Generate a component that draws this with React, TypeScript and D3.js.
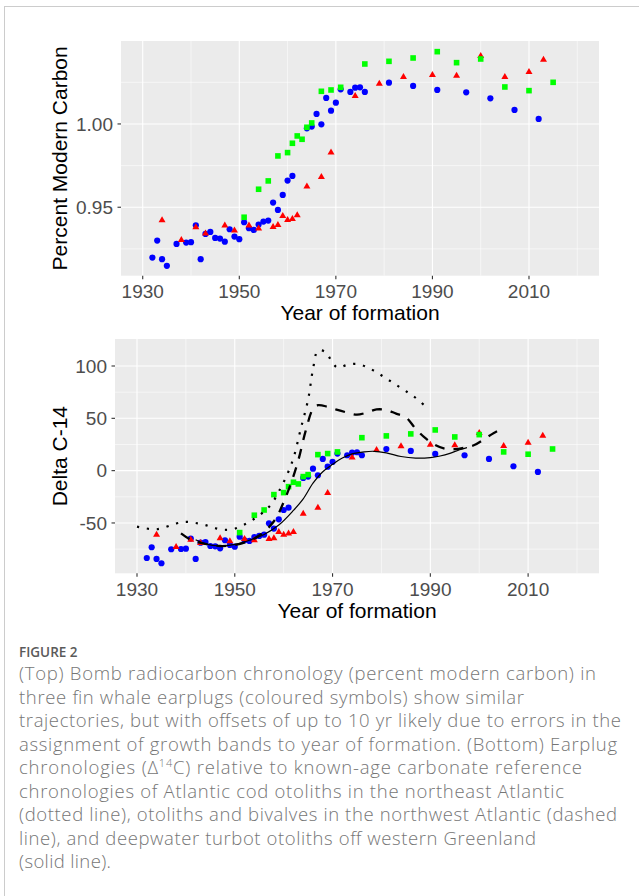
import React from 'react';
import * as d3 from 'd3';

const W = 639;
const H = 896;

// top panel - percent modern carbon, three earplugs
const pmcBlue: [number, number][] = [
  [1932, 0.9198], [1933, 0.930], [1934, 0.9188], [1935, 0.9148], [1937, 0.928], [1939, 0.9288],
  [1940, 0.929], [1941, 0.9392], [1942, 0.9188], [1943, 0.934], [1944, 0.9352], [1945, 0.9316],
  [1946, 0.9312], [1947, 0.9293], [1948, 0.9368], [1949, 0.9324], [1950, 0.9308], [1951, 0.941],
  [1952, 0.9374], [1953, 0.9364], [1954, 0.9396], [1955, 0.9414], [1956, 0.942], [1957, 0.9528],
  [1958, 0.9484], [1959, 0.9574], [1960, 0.966], [1961, 0.9688], [1964, 0.9974], [1965, 0.9984],
  [1966, 1.006], [1967, 0.9998], [1968, 1.0156], [1969, 1.008], [1970, 1.0128], [1971, 1.0208],
  [1973, 1.0192], [1974, 1.0218], [1975, 1.022], [1976, 1.0192], [1981, 1.0248], [1986, 1.0228],
  [1991, 1.0204], [1997, 1.019], [2002, 1.0154], [2007, 1.0084], [2012, 1.003],
];
const pmcRed: [number, number][] = [
  [1934, 0.9428], [1938, 0.931], [1941, 0.9386], [1943, 0.9348], [1947, 0.9396], [1949, 0.9366],
  [1952, 0.9396], [1954, 0.9378], [1957, 0.9388], [1958, 0.940], [1959, 0.9454], [1960, 0.943],
  [1961, 0.9436], [1962, 0.9458], [1964, 0.963], [1967, 0.9688], [1969, 0.9834], [1974, 1.0174],
  [1979, 1.0248], [1984, 1.0288], [1990, 1.030], [1995, 1.0296], [2000, 1.0414], [2005, 1.0288],
  [2010, 1.0318], [2013, 1.0392],
];
const pmcGreen: [number, number][] = [
  [1951, 0.944], [1954, 0.9608], [1956, 0.9658], [1958, 0.9808], [1960, 0.9828], [1961, 0.9884],
  [1962, 0.9928], [1963, 0.9908], [1964, 0.998], [1965, 1.0006], [1967, 1.0196], [1969, 1.0204],
  [1971, 1.022], [1976, 1.036], [1981, 1.0376], [1986, 1.0396], [1991, 1.0434], [1995, 1.0368],
  [2000, 1.039], [2005, 1.0222], [2010, 1.020], [2015, 1.025],
];

// bottom panel - delta C-14
const dBlue: [number, number][] = [
  [1932, -83.5], [1933, -73.2], [1934, -84.4], [1935, -88.5], [1937, -75.1], [1939, -74.9],
  [1940, -74.6], [1941, -64.9], [1942, -84.4], [1943, -68.8], [1944, -68.2], [1945, -72],
  [1946, -72.3], [1947, -74.2], [1948, -66.5], [1949, -71], [1950, -72.7], [1951, -63.1],
  [1952, -66.5], [1953, -67.2], [1954, -63.4], [1955, -62.4], [1956, -61.2], [1957, -50.3],
  [1958, -55.4], [1959, -46.5], [1960, -37.6], [1961, -35.4], [1964, -7], [1965, -5.7],
  [1966, 1.9], [1967, -4.4], [1968, 11.2], [1969, 3.8], [1970, 8.3], [1971, 16.3],
  [1973, 14.7], [1974, 17.2], [1975, 17.6], [1976, 14.7], [1981, 20.7], [1986, 18.8],
  [1991, 16], [1997, 14.7], [2002, 11.2], [2007, 4.2], [2012, -1.2],
];
const dRed: [number, number][] = [
  [1934, -60.2], [1938, -72], [1941, -65], [1943, -68.2], [1947, -63.7], [1949, -66.5],
  [1952, -64.3], [1954, -65.6], [1957, -64.3], [1958, -63.7], [1959, -57.6], [1960, -60.2],
  [1961, -59.2], [1962, -57.6], [1964, -40.2], [1967, -34.4], [1969, -20.4], [1974, 13.4],
  [1979, 20.7], [1984, 24.3], [1990, 25.8], [1995, 25.2], [2000, 37], [2005, 24.6],
  [2010, 27.7], [2013, 34.4],
];
const dGreen: [number, number][] = [
  [1951, -59.2], [1954, -42.6], [1956, -37.6], [1958, -22.9], [1960, -21], [1961, -15.3],
  [1962, -11.1], [1963, -12.7], [1964, -5.7], [1965, -3.8], [1967, 15.3], [1969, 16.3],
  [1971, 17.9], [1976, 31.5], [1981, 33.2], [1986, 35.1], [1991, 38.9], [1995, 32.2],
  [2000, 34.4], [2005, 17.9], [2010, 15.7], [2015, 20.7],
];

// reference chronologies
const codNE: [number, number][] = [
  [1930, -53.5], [1934, -56], [1938, -50.5], [1940, -49], [1942, -50], [1944, -52], [1946, -55],
  [1948, -56.5], [1950, -55.5], [1952, -51.5], [1954, -46], [1956, -39], [1957.5, -32],
  [1959, -20], [1960.5, -6], [1962, 12], [1963.5, 40], [1965, 68], [1966, 97], [1967, 114.5],
  [1968.5, 113.5], [1970, 103], [1971, 98.5], [1973, 101], [1975, 102], [1977, 99], [1979, 94],
  [1981, 88], [1983, 82], [1985, 76], [1987, 69.5], [1989, 61.5],
];
const nwAtlantic: [number, number][] = [
  [1939, -60], [1941, -66], [1944, -70], [1947, -72], [1950, -71], [1953, -67], [1955, -62],
  [1957, -54], [1958.5, -45], [1960, -30], [1961.5, -12], [1963, 10], [1964.5, 38], [1966, 59],
  [1967, 62.5], [1969, 61], [1971, 58], [1973, 55.5], [1975, 53.5], [1977, 55.5], [1979, 58.5],
  [1981, 58], [1983, 54.5], [1985, 51], [1987, 40], [1989, 31], [1991, 24.5], [1993, 21],
  [1995, 20.5], [1997, 22], [1999, 24.5], [2001, 30], [2003, 36], [2005, 40.5],
];
const turbotGreenland: [number, number][] = [
  [1942, -66], [1944, -70], [1947, -72], [1950, -70.5], [1953, -66.5], [1956, -61], [1959, -52],
  [1962, -38], [1964, -27], [1966, -12], [1968, -1], [1970, 6], [1972, 12], [1974, 16],
  [1976.5, 18], [1978.5, 18.5], [1981, 17], [1984, 13.5], [1987, 12], [1990, 12.5], [1992, 14],
  [1994, 16.5], [1996, 20], [1997.5, 22],
];

const yearTicks = [1930, 1950, 1970, 1990, 2010];
const yearMinor = [1940, 1960, 1980, 2000, 2020];
const pmcTicks = [0.95, 1.0];
const pmcMinor = [0.925, 0.975, 1.025];
const deltaTicks = [-50, 0, 50, 100];
const deltaMinor = [-75, -25, 25, 75];

const captionLines = [
  '(Top) Bomb radiocarbon chronology (percent modern carbon) in',
  'three fin whale earplugs (coloured symbols) show similar',
  'trajectories, but with offsets of up to 10 yr likely due to errors in the',
  'assignment of growth bands to year of formation. (Bottom) Earplug',
  'chronologies (\u0394^14^C) relative to known-age carbonate reference',
  'chronologies of Atlantic cod otoliths in the northeast Atlantic',
  '(dotted line), otoliths and bivalves in the northwest Atlantic (dashed',
  'line), and deepwater turbot otoliths off western Greenland',
  '(solid line).',
];
const captionWidths = [577, 505, 602, 598, 563, 545, 598, 517, 92];

const FONT = '"Liberation Sans", Arial, sans-serif';

function tri(cx, cy) {
  return `M${cx},${cy - 3} L${cx + 3.5},${cy + 3} L${cx - 3.5},${cy + 3} Z`;
}

function Panel({ box, yDomain, yTicks, yMinor, fmt, yTitle, blue, red, green, lines }) {
  const x = d3.scaleLinear().domain([1925.5, 2024.5]).range([box.left, box.right]);
  const y = d3.scaleLinear().domain(yDomain).range([box.bottom, box.top]);
  const line = d3.line().x(d => x(d[0])).y(d => y(d[1])).curve(d3.curveCatmullRom.alpha(0.5));
  const cy = (box.top + box.bottom) / 2;
  const cx = (box.left + box.right) / 2;

  return (
    <g>
      <rect x={box.left} y={box.top} width={box.right - box.left} height={box.bottom - box.top} fill="#EBEBEB" />
      {yMinor.map(v => (
        <line key={'ym' + v} x1={box.left} x2={box.right} y1={y(v)} y2={y(v)} stroke="#fff" strokeWidth={0.55} />
      ))}
      {yearMinor.map(v => (
        <line key={'xm' + v} x1={x(v)} x2={x(v)} y1={box.top} y2={box.bottom} stroke="#fff" strokeWidth={0.55} />
      ))}
      {yTicks.map(v => (
        <line key={'yg' + v} x1={box.left} x2={box.right} y1={y(v)} y2={y(v)} stroke="#fff" strokeWidth={1.1} />
      ))}
      {yearTicks.map(v => (
        <line key={'xg' + v} x1={x(v)} x2={x(v)} y1={box.top} y2={box.bottom} stroke="#fff" strokeWidth={1.1} />
      ))}

      {blue.map((d, i) => (
        <circle key={'b' + i} cx={x(d[0])} cy={y(d[1])} r={3.1} fill="#0000FF" />
      ))}
      {red.map((d, i) => (
        <path key={'r' + i} d={tri(x(d[0]), y(d[1]))} fill="#FF0000" />
      ))}
      {green.map((d, i) => (
        <rect key={'g' + i} x={x(d[0]) - 2.8} y={y(d[1]) - 2.8} width={5.6} height={5.6} fill="#00FF00" />
      ))}

      {lines && lines.map((l, i) => (
        <path key={'l' + i} d={line(l.data)} fill="none" stroke="#000" strokeWidth={l.width}
          strokeDasharray={l.dash} />
      ))}

      {/* axes */}
      {yTicks.map(v => (
        <g key={'yt' + v}>
          <line x1={box.left - 3.5} x2={box.left} y1={y(v)} y2={y(v)} stroke="#333" strokeWidth={1.1} />
          <text x={box.left - 8} y={y(v)} dy="0.35em" textAnchor="end" fontSize={19} fill="#4D4D4D"
            fontFamily={FONT}>{fmt(v)}</text>
        </g>
      ))}
      {yearTicks.map(v => (
        <g key={'xt' + v}>
          <line x1={x(v)} x2={x(v)} y1={box.bottom} y2={box.bottom + 3.5} stroke="#333" strokeWidth={1.1} />
          <text x={x(v)} y={box.bottom + 22.3} textAnchor="middle" fontSize={19} fill="#4D4D4D"
            fontFamily={FONT}>{v}</text>
        </g>
      ))}
      <text x={cx} y={box.bottom + 44.5} textAnchor="middle" fontSize={21} fill="#000" fontFamily={FONT}>
        Year of formation
      </text>
      <text transform={`translate(66.5,${cy}) rotate(-90)`} textAnchor="middle" fontSize={21} fill="#000"
        fontFamily={FONT}>{yTitle}</text>
    </g>
  );
}

export default function App() {
  const topBox = { left: 121, right: 599, top: 41, bottom: 275.7 };
  const botBox = { left: 115, right: 599, top: 339, bottom: 573.3 };

  const refLines = [
    { data: codNE, width: 2.2, dash: '2.2 7.8' },
    { data: nwAtlantic, width: 2.3, dash: '10 9' },
    { data: turbotGreenland, width: 1.2, dash: null },
  ];

  return (
    <div style={{ position: 'absolute', left: 0, top: 0 }}>
      <svg width={W} height={H} style={{ display: 'block', background: '#fff' }}>
        <rect x={4.5} y={6.5} width={700} height={1000} fill="none" stroke="#cccccc" strokeWidth={1} />

        <Panel box={topBox} yDomain={[0.9089, 1.0498]} yTicks={pmcTicks} yMinor={pmcMinor}
          fmt={d3.format('.2f')} yTitle="Percent Modern Carbon"
          blue={pmcBlue} red={pmcRed} green={pmcGreen} lines={null} />

        <Panel box={botBox} yDomain={[-98.1, 125.8]} yTicks={deltaTicks} yMinor={deltaMinor}
          fmt={v => String(v)} yTitle="Delta C-14"
          blue={dBlue} red={dRed} green={dGreen} lines={refLines} />

        <text x={19} y={657} fontFamily='"Open Sans", sans-serif' fontSize={13.5} fill="#5a5a5a"
          fontWeight={600}>FIGURE 2</text>
        {captionLines.map((s, i) => {
          const parts = s.split('^');
          return (
            <text key={i} x={19} y={680 + i * 23.5} fontFamily='"Open Sans", sans-serif' fontSize={18.5}
              fontWeight={300} fill="#767676" textLength={captionWidths[i]} lengthAdjust="spacing">
              {parts.map((p, j) => j % 2 === 1
                ? <tspan key={j} fontSize={11} dy={-7}>{p}</tspan>
                : <tspan key={j} dy={j > 0 ? 7 : 0}>{p}</tspan>)}
            </text>
          );
        })}
      </svg>
    </div>
  );
}
